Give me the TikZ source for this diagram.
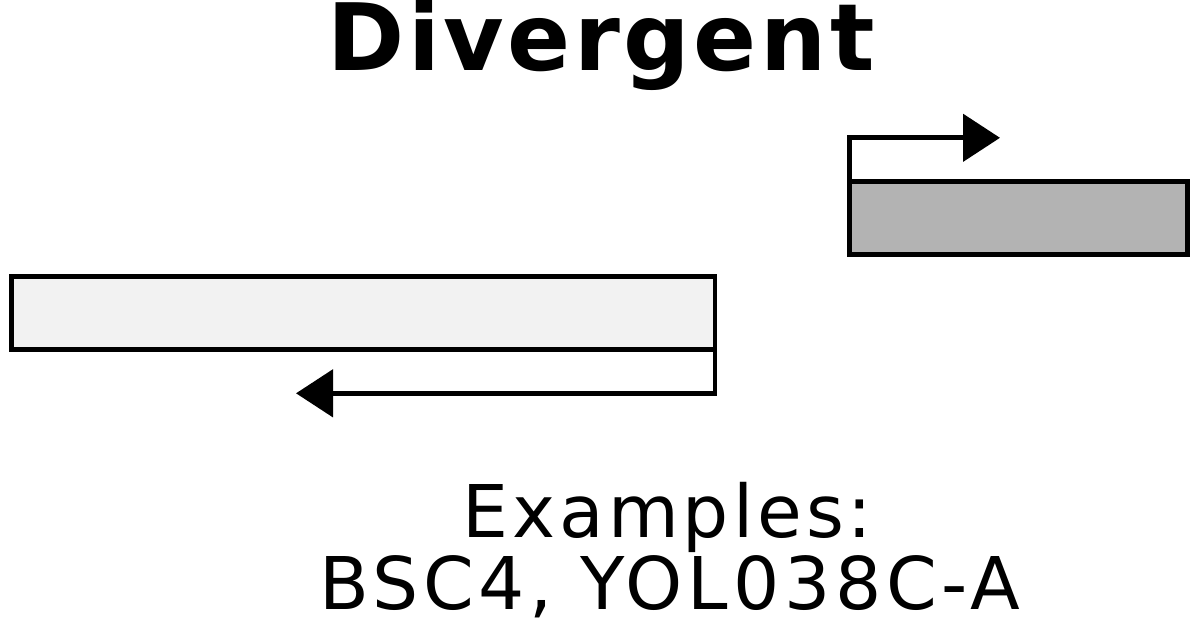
\documentclass[tikz,border=0pt]{standalone}
\usepackage{fontspec}
\setmainfont{DejaVu Sans}
\newfontfamily\titlefont[LetterSpace=3.8]{DejaVu Sans}
\newfontfamily\labelfont[LetterSpace=5.5]{DejaVu Sans}
\newfontfamily\namesfont[LetterSpace=6.5]{DejaVu Sans}
\usetikzlibrary{arrows.meta}
\definecolor{genedark}{HTML}{B3B3B3}
\definecolor{genelight}{HTML}{F2F2F2}
\begin{document}
\begin{tikzpicture}[x=1pt, y=-1pt, line join=miter,
		gene/.style={draw=black, line width=4.9pt, inner sep=0pt, outer sep=0pt},
		txt/.style={inner sep=0pt, anchor=base},
		dirarrow/.style={line width=4.9pt, -{Triangle[length=37pt,width=47pt]}}]
	\useasboundingbox (0,0) rectangle (1190,619);
	\node[txt] (title) at (601,70.7) {\titlefont\bfseries\fontsize{93}{100}\selectfont Divergent};
	% genes
	\node[gene, fill=genedark, minimum width=338pt, minimum height=72.4pt] (rgene) at (1018.5,218) {};
	\node[gene, fill=genelight, minimum width=703.5pt, minimum height=72.9pt] (lgene) at (363.25,313.25) {};
	% promoters
	\coordinate (rtip) at (1000,137.8);
	\coordinate (ltip) at (296,393.3);
	\draw[dirarrow] (rgene.north west) |- (rtip);
	\draw[dirarrow] (lgene.south east) |- (ltip);
	\node[txt] (ex) at (667.5,537) {\labelfont\fontsize{72.7}{80}\selectfont Examples:};
	\node[txt] (names) at (670,609) {\namesfont\fontsize{72.7}{80}\selectfont BSC4, YOL038C-A};
\end{tikzpicture}
\end{document}
